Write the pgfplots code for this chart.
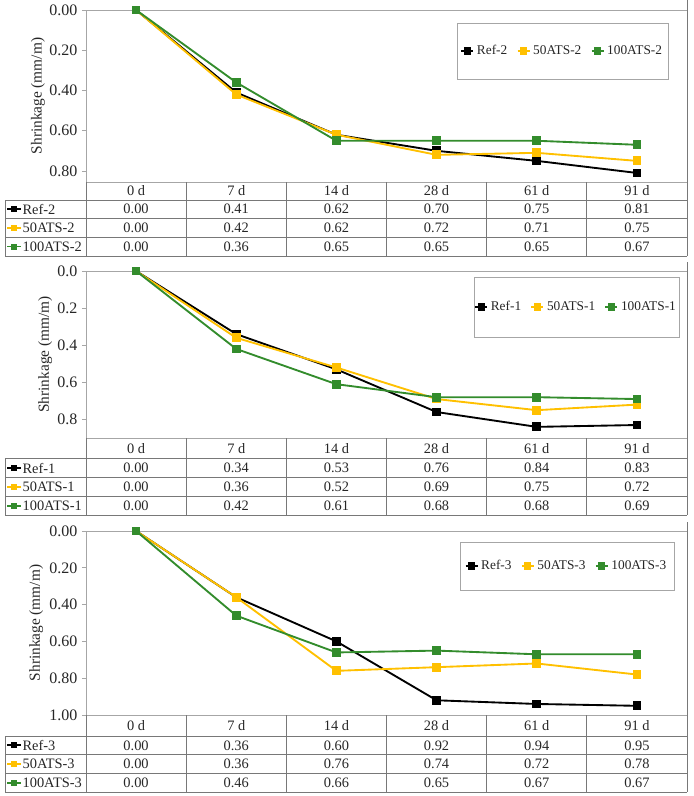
\documentclass[border=0pt]{standalone}
\usepackage{fontspec}
\setmainfont{Liberation Serif}
\usepackage{pgfplots}
\pgfplotsset{compat=1.18}
\definecolor{cblack}{RGB}{0,0,0}
\definecolor{cyel}{RGB}{255,192,0}
\definecolor{cgrn}{RGB}{51,140,44}
\definecolor{axgray}{RGB}{166,166,166}
\definecolor{tblgray}{RGB}{120,120,120}
\definecolor{txt}{RGB}{38,38,38}

\tikzset{tfont/.style={font=\fontsize{10.8}{12}\selectfont, text=txt}}

\pgfplotsset{
 panel/.style={
  scale only axis, width=450.75pt, clip=false,
  xmin=-0.5, xmax=5.5, ymin=0, y dir=reverse,
  xtick=\empty, ytick pos=left, tick align=outside, major tick length=3pt,
  axis line style={axgray, line width=0.6pt}, tick style={axgray, line width=0.6pt},
  yticklabel style={font=\fontsize{12}{14}\selectfont, text=txt,
    /pgf/number format/fixed, /pgf/number format/fixed zerofill,
    /pgf/number format/precision=2, /pgf/number format/assume math mode=true},
  ylabel={Shrinkage (mm/m)},
  ylabel style={font=\fontsize{11.5}{13}\selectfont, text=txt, anchor=center},
  legend columns=3,
  legend style={draw=none, fill=none, anchor=center, font=\fontsize{10}{11}\selectfont, text=txt,
    /tikz/every even column/.append style={column sep=5pt}},
  legend image code/.code={\draw[mark repeat=2,mark phase=2,##1] plot coordinates {(0pt,0pt) (4.5pt,0pt) (9pt,0pt)};},
  legend image post style={mark size=2pt},
  every axis plot/.append style={line width=1.4pt, mark=square*, mark size=2.6pt, mark options={solid}},
 },
}

\newcommand{\tblgrid}[6]{% paneltop, top, hb, r1, r2, r3 (px)
 \draw[tblgray, line width=0.6pt] (86,#2) -- (86,#6) (5,#3) -- (687,#3) (5,#4) -- (687,#4)
   (5,#5) -- (687,#5) (5,#6) -- (687,#6) (5,#3) -- (5,#6) (687,#1) -- (687,#6);
 \foreach \x in {186.17,286.33,386.5,486.67,586.83} \draw[tblgray, line width=0.6pt] (\x,#2) -- (\x,#6);
 \foreach \d [count=\i from 0] in {0,7,14,28,61,91} \node[tfont] at ({136.08+100.17*\i},{(#2+#3)/2}) {\d\ d};
}
\newcommand{\tblrow}[5]{% ytop, ybot, color, label, values
 \pgfmathsetmacro\ym{(#1+#2)/2}
 \draw[#3, line width=1.4pt] (7,\ym) -- (21,\ym);
 \fill[#3] ({14-3},{\ym-3}) rectangle ({14+3},{\ym+3});
 \node[tfont, anchor=west, inner xsep=1pt] at (21,\ym) {#4};
 \foreach \v [count=\i from 0] in {#5} \node[tfont] at ({136.08+100.17*\i},\ym) {\v};
}

\begin{document}
\begin{tikzpicture}
\useasboundingbox (0,0) rectangle (519.75pt,-597pt);

% ---------- Panel 1 ----------
\begin{axis}[panel, at={(64.5pt,-136.5pt)}, anchor=south west, height=129pt,
  ymax=0.855, ytick={0,0.2,0.4,0.6,0.8},
  ylabel style={at={(axis description cs:-0.08,0.5)}},
  legend style={at={(0.793,0.762)}}]
\addplot[cblack] coordinates {(0,0) (1,0.41) (2,0.62) (3,0.70) (4,0.75) (5,0.81)};
\addplot[cyel] coordinates {(0,0) (1,0.42) (2,0.62) (3,0.72) (4,0.71) (5,0.75)};
\addplot[cgrn] coordinates {(0,0) (1,0.36) (2,0.65) (3,0.65) (4,0.65) (5,0.67)};
\legend{Ref-2,50ATS-2,100ATS-2}
\end{axis}

% ---------- Panel 2 ----------
\begin{axis}[panel, at={(64.5pt,-328.5pt)}, anchor=south west, height=125.25pt,
  ymax=0.9, ytick={0,0.2,0.4,0.6,0.8},
  yticklabel style={/pgf/number format/precision=1},
  ylabel style={at={(axis description cs:-0.068,0.5)}},
  legend style={at={(0.816,0.784)}}]
\addplot[cblack] coordinates {(0,0) (1,0.34) (2,0.53) (3,0.76) (4,0.84) (5,0.83)};
\addplot[cyel] coordinates {(0,0) (1,0.36) (2,0.52) (3,0.69) (4,0.75) (5,0.72)};
\addplot[cgrn] coordinates {(0,0) (1,0.42) (2,0.61) (3,0.68) (4,0.68) (5,0.69)};
\legend{Ref-1,50ATS-1,100ATS-1}
\end{axis}

% ---------- Panel 3 ----------
\begin{axis}[panel, at={(64.5pt,-536.25pt)}, anchor=south west, height=138pt,
  ymax=1.0, ytick={0,0.2,0.4,0.6,0.8,1.0},
  ylabel style={at={(axis description cs:-0.083,0.5)}},
  legend style={at={(0.800,0.81)}}]
\addplot[cblack] coordinates {(0,0) (1,0.36) (2,0.60) (3,0.92) (4,0.94) (5,0.95)};
\addplot[cyel] coordinates {(0,0) (1,0.36) (2,0.76) (3,0.74) (4,0.72) (5,0.78)};
\addplot[cgrn] coordinates {(0,0) (1,0.46) (2,0.66) (3,0.65) (4,0.67) (5,0.67)};
\legend{Ref-3,50ATS-3,100ATS-3}
\end{axis}

% ---------- tables and legend boxes ----------
\begin{scope}[x=0.75pt, y=-0.75pt]
 \draw[axgray, line width=0.6pt] (457,23) rectangle (668,79);
 \draw[axgray, line width=0.6pt] (474,277) rectangle (679,337);
 \draw[axgray, line width=0.6pt] (460,542) rectangle (674,590);

 \tblgrid{0}{182}{200}{218.5}{237}{256}
 \tblrow{200}{218.5}{cblack}{Ref-2}{0.00,0.41,0.62,0.70,0.75,0.81}
 \tblrow{218.5}{237}{cyel}{50ATS-2}{0.00,0.42,0.62,0.72,0.71,0.75}
 \tblrow{237}{256}{cgrn}{100ATS-2}{0.00,0.36,0.65,0.65,0.65,0.67}

 \tblgrid{262}{438}{458.5}{477.5}{496.5}{515}
 \tblrow{458.5}{477.5}{cblack}{Ref-1}{0.00,0.34,0.53,0.76,0.84,0.83}
 \tblrow{477.5}{496.5}{cyel}{50ATS-1}{0.00,0.36,0.52,0.69,0.75,0.72}
 \tblrow{496.5}{515}{cgrn}{100ATS-1}{0.00,0.42,0.61,0.68,0.68,0.69}

 \tblgrid{522}{715}{736}{754.7}{773.3}{792}
 \tblrow{736}{754.7}{cblack}{Ref-3}{0.00,0.36,0.60,0.92,0.94,0.95}
 \tblrow{754.7}{773.3}{cyel}{50ATS-3}{0.00,0.36,0.76,0.74,0.72,0.78}
 \tblrow{773.3}{792}{cgrn}{100ATS-3}{0.00,0.46,0.66,0.65,0.67,0.67}
\end{scope}
\end{tikzpicture}
\end{document}
